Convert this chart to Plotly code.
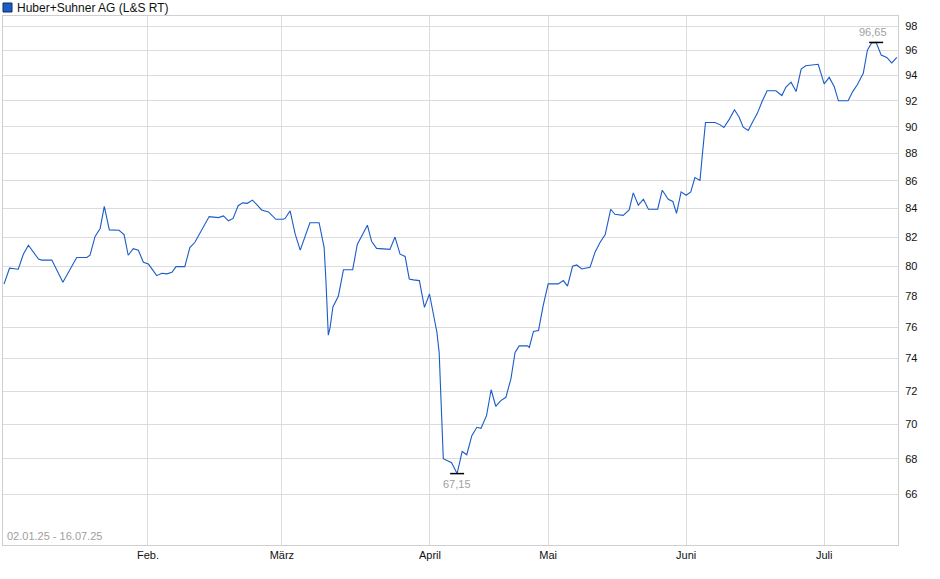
import math
import plotly.graph_objects as go

# session position (trading-day index along the axis) and closing prices
session = [0.0, 1.2, 3.1, 4.2, 5.3, 7.5, 8.2, 10.4, 12.8, 15.8, 18.0, 18.7, 19.8, 20.9, 21.8, 22.9,
           25.0, 26.1, 27.0, 28.1, 29.2, 30.3, 31.4, 33.2, 34.3, 35.4, 36.5, 37.4, 39.3, 40.4, 41.5,
           44.6, 46.6, 47.7, 48.8, 49.8, 50.9, 51.9, 52.9, 54.0, 54.9, 56.0, 57.5, 59.1, 60.7, 61.1,
           62.2, 63.3, 64.4, 65.4, 66.5, 68.5, 69.6, 70.0, 70.5, 70.9, 71.5, 72.7, 73.8, 75.8, 76.8,
           79.0, 79.9, 81.0, 83.9, 85.0, 86.1, 87.2, 88.1, 89.0, 90.3, 91.4, 92.5, 94.1, 94.6, 95.5,
           97.3, 98.5, 99.6, 100.6, 101.7, 102.8, 103.7, 104.9, 105.9, 106.9, 108.0, 109.1, 110.2,
           111.1, 112.0, 113.8, 114.2, 115.1, 116.2, 117.2, 118.3, 120.5, 121.6, 122.5, 123.6, 124.5,
           125.6, 127.4, 128.5, 129.6, 130.7, 131.9, 132.8, 134.6, 135.9, 136.8, 137.9, 139.0, 140.1,
           142.1, 143.1, 144.4, 145.4, 146.2, 147.2, 148.3, 149.3, 150.2, 151.3, 151.9, 152.5, 154.6,
           155.7, 156.5, 157.7, 158.8, 159.8, 160.7, 161.8, 162.8, 163.8, 164.8, 165.9, 167.8, 169.1,
           170.0, 171.1, 172.2, 173.3, 174.3, 177.0, 178.3, 179.4, 180.5, 181.4, 183.5, 184.5, 185.5,
           186.8, 187.7, 188.6, 189.6, 190.7, 191.9, 193.0, 194.1]
price = [78.8, 79.87, 79.8, 80.82, 81.44, 80.49, 80.42, 80.42, 78.93, 80.6, 80.6, 80.75, 82.04, 82.6,
         84.15, 82.5, 82.47, 82.17, 80.75, 81.2, 81.09, 80.27, 80.15, 79.37, 79.53, 79.49, 79.6, 79.98,
         79.98, 81.27, 81.64, 83.43, 83.36, 83.48, 83.13, 83.3, 84.2, 84.4, 84.37, 84.6, 84.3, 83.9,
         83.76, 83.24, 83.24, 83.3, 83.83, 82.2, 81.1, 81.93, 83.0, 83.0, 81.27, 78.93, 75.48, 76.0,
         77.3, 78.02, 79.77, 79.77, 81.49, 82.83, 81.71, 81.22, 81.15, 82.0, 80.82, 80.67, 79.15, 79.09,
         79.04, 77.27, 78.15, 75.68, 74.39, 68.0, 67.77, 67.15, 68.42, 68.23, 69.34, 69.83, 69.77, 70.52,
         72.08, 71.08, 71.42, 71.62, 72.75, 74.39, 74.8, 74.8, 74.7, 75.72, 75.78, 77.37, 78.82, 78.82,
         79.04, 78.67, 80.0, 80.09, 79.82, 79.93, 80.98, 81.64, 82.17, 83.95, 83.59, 83.52, 83.9, 85.12,
         84.24, 84.66, 83.95, 83.95, 85.31, 84.66, 84.5, 83.66, 85.19, 84.95, 85.19, 86.22, 86.02, 88.19,
         90.33, 90.33, 90.15, 89.95, 90.59, 91.31, 90.75, 89.98, 89.73, 90.41, 91.05, 91.95, 92.78, 92.78,
         92.41, 93.07, 93.46, 92.72, 94.5, 94.77, 94.88, 93.33, 93.84, 93.1, 92.0, 92.0, 92.72, 93.25,
         94.16, 96.02, 96.6, 96.65, 95.62, 95.43, 95.0, 95.43]

month_pos = [31.3, 60.4, 92.6, 118.3, 148.3, 178.3]
month_labels = ["Feb.", "März", "April", "Mai", "Juni", "Juli"]
y_ticks = [66, 68, 70, 72, 74, 76, 78, 80, 82, 84, 86, 88, 90, 92, 94, 96, 98]

line_color = "#1a5cc8"
grid_color = "#dcdcdc"
font_family = "Liberation Sans, Arial, sans-serif"

i_min = price.index(min(price))
i_max = price.index(max(price))

fig = go.Figure()

fig.add_trace(go.Scatter(
    x=session, y=price, mode="lines",
    line=dict(color=line_color, width=1.1),
    showlegend=False, hoverinfo="y"
))

# small black bars marking low and high
fig.add_trace(go.Scatter(
    x=[session[i_min], session[i_max]], y=[price[i_min], price[i_max]],
    mode="markers",
    marker=dict(symbol="line-ew", size=10, line=dict(color="black", width=1.5)),
    showlegend=False, hoverinfo="skip"
))

def fmt(v):
    return f"{v:.2f}".replace(".", ",")

# annotations on a log axis take log10 positions
fig.add_annotation(x=session[i_min], y=math.log10(price[i_min]), text=fmt(price[i_min]),
                   showarrow=False, yanchor="top", yshift=-2,
                   font=dict(color="#a0a0a0", size=11, family=font_family))
fig.add_annotation(x=session[i_max], y=math.log10(price[i_max]), text=fmt(price[i_max]),
                   showarrow=False, yanchor="bottom", yshift=2, xshift=-3,
                   font=dict(color="#a0a0a0", size=11, family=font_family))

# legend box and title
fig.add_shape(type="rect", xref="paper", yref="paper",
              xsizemode="pixel", ysizemode="pixel", xanchor=0, yanchor=1.0,
              x0=0, x1=9, y0=4, y1=13,
              fillcolor="#1a5cc8", line=dict(color="#0a2a66", width=1))
fig.add_annotation(xref="paper", yref="paper", x=0, y=1.0, xshift=12, yshift=8.5,
                   text="Huber+Suhner AG (L&S RT)", showarrow=False,
                   xanchor="left", yanchor="middle",
                   font=dict(color="#111", size=12, family=font_family))
fig.add_annotation(xref="paper", yref="paper", x=0, y=0, xshift=2, yshift=1,
                   text="02.01.25 - 16.07.25", showarrow=False,
                   xanchor="left", yanchor="bottom",
                   font=dict(color="#a0a0a0", size=11, family=font_family))

fig.update_layout(
    width=940, height=579,
    margin=dict(l=3, r=42, t=16, b=34),
    plot_bgcolor="white", paper_bgcolor="white",
    font=dict(family=font_family, size=11, color="#111"),
    xaxis=dict(
        range=[-0.22, 194.35],
        tickvals=month_pos, ticktext=month_labels,
        showgrid=True, gridcolor=grid_color, gridwidth=1,
        zeroline=False, showline=True, linecolor="#cfcfcf", mirror=True,
        ticks="", fixedrange=True
    ),
    yaxis=dict(
        type="log", range=[1.80086, 1.99490], side="right",
        tickvals=y_ticks, ticktext=[str(t) for t in y_ticks],
        showgrid=True, gridcolor=grid_color, gridwidth=1,
        zeroline=False, showline=True, linecolor="#cfcfcf", mirror=True,
        ticks="", ticklabelstandoff=4, fixedrange=True
    ),
    hovermode="closest"
)

fig.write_html("out.html", config={"displayModeBar": False},
               post_script="document.body.style.margin='0';")
